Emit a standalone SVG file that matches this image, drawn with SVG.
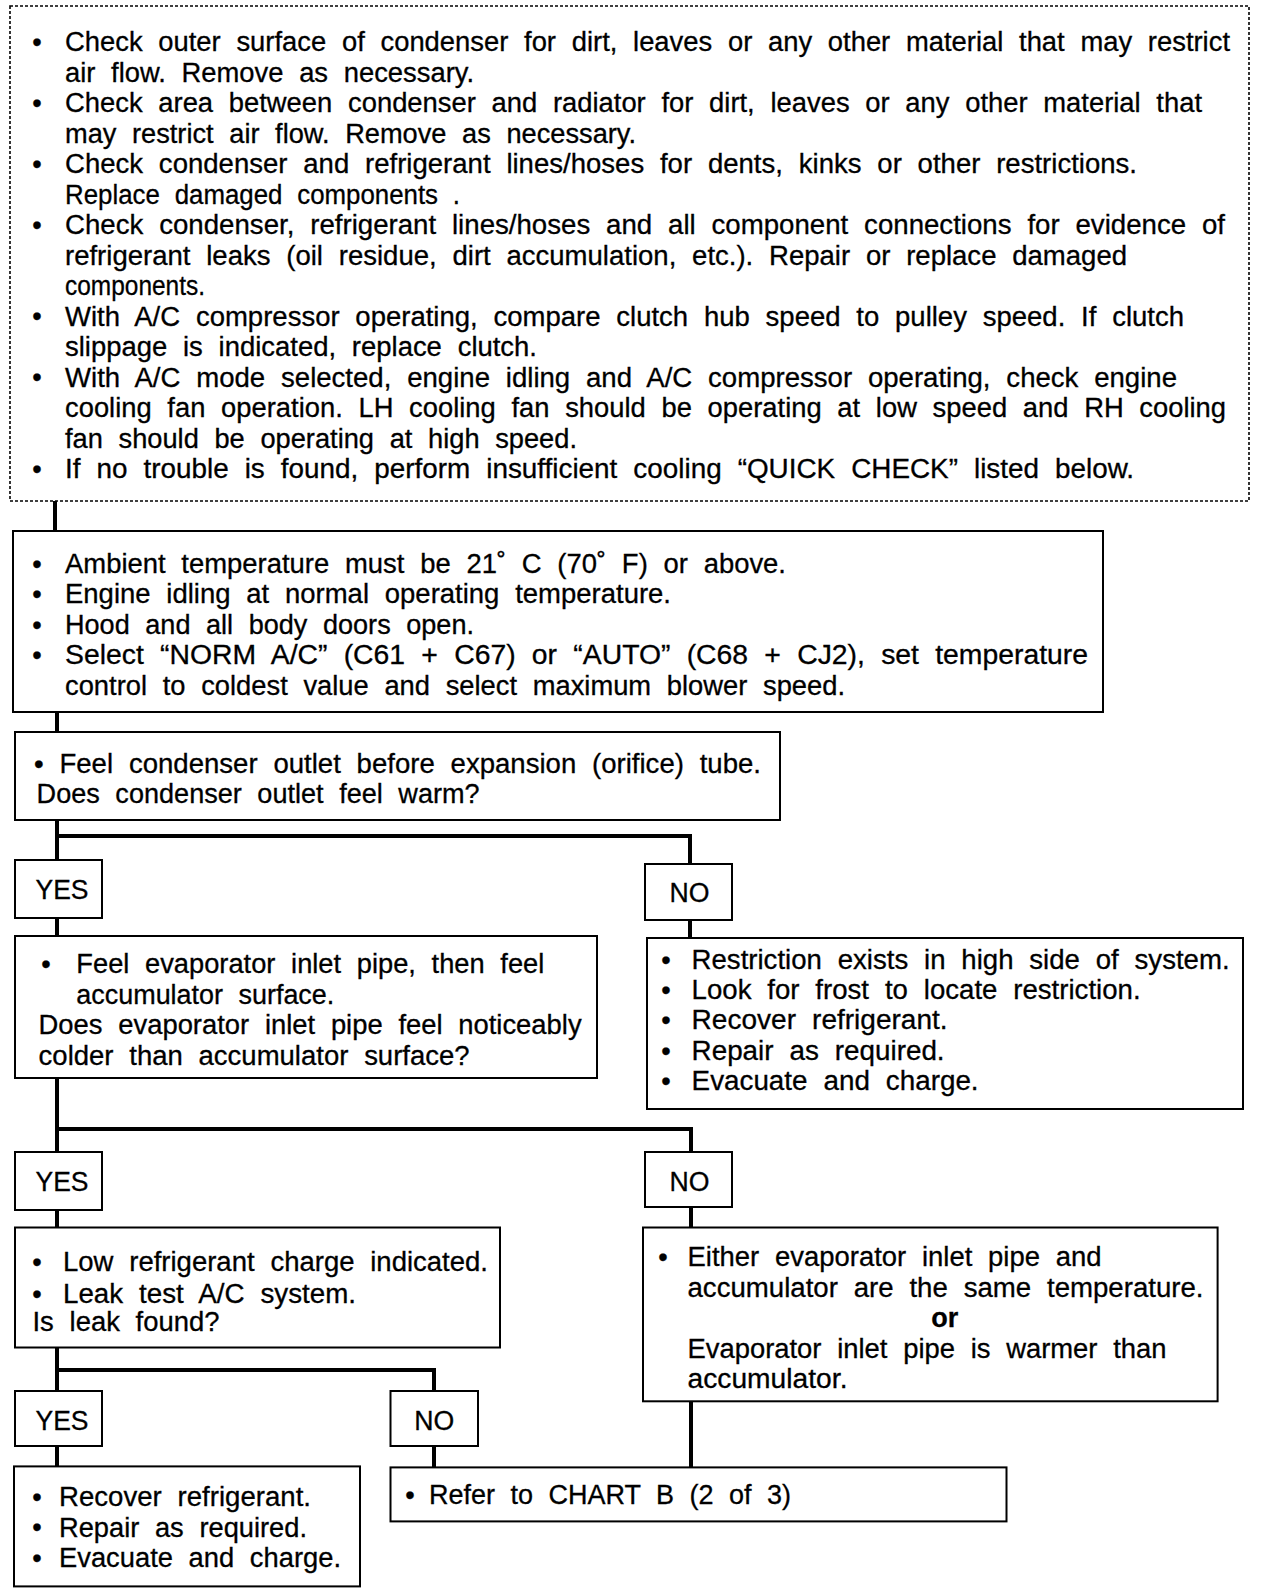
<svg xmlns="http://www.w3.org/2000/svg" width="1264" height="1594" viewBox="0 0 1264 1594">
<style>
.t{font-family:"Liberation Sans",Arial,Helvetica,sans-serif;font-size:27px;fill:#000;word-spacing:8px;stroke:#000;stroke-width:0.3}
.b{font-family:"Liberation Sans",Arial,Helvetica,sans-serif;font-size:27px;fill:#000;text-anchor:middle;stroke:#000;stroke-width:0.3}
.box{fill:#fff;stroke:#000;stroke-width:2}
.dash{fill:#fff;stroke:#000;stroke-width:1.6;stroke-dasharray:3 2}
.conn{stroke:#000;stroke-width:4;fill:none;stroke-linejoin:miter}
</style>
<rect width="1264" height="1594" fill="#fff"/>
<g id="connectors">
<path class="conn" d="M55 501 V531"/>
<path class="conn" d="M57 712 V732"/>
<path class="conn" d="M57 820 V860 M57 836 H690 V864"/>
<path class="conn" d="M57 918 V936"/>
<path class="conn" d="M690 920 V938"/>
<path class="conn" d="M57 1078 V1152 M57 1129 H691 V1152"/>
<path class="conn" d="M57 1210 V1228"/>
<path class="conn" d="M691 1207 V1228"/>
<path class="conn" d="M57 1347 V1391 M57 1370 H434 V1391"/>
<path class="conn" d="M57 1446 V1466"/>
<path class="conn" d="M434 1446 V1467"/>
<path class="conn" d="M691 1401 V1467"/>
</g>
<g id="checks">
<rect class="dash" x="10" y="6" width="1239" height="495"/>
<g class="b"><text x="37" y="51">•</text><text x="37" y="112">•</text><text x="37" y="173">•</text><text x="37" y="234">•</text><text x="37" y="325">•</text><text x="37" y="386">•</text><text x="37" y="478">•</text></g>
<g class="t">
<text x="65" y="51" textLength="1165" lengthAdjust="spacingAndGlyphs">Check outer surface of condenser for dirt, leaves or any other material that may restrict</text>
<text x="65" y="81.5" textLength="409" lengthAdjust="spacingAndGlyphs">air flow. Remove as necessary.</text>
<text x="65" y="112" textLength="1137" lengthAdjust="spacingAndGlyphs">Check area between condenser and radiator for dirt, leaves or any other material that</text>
<text x="65" y="142.5" textLength="571" lengthAdjust="spacingAndGlyphs">may restrict air flow. Remove as necessary.</text>
<text x="65" y="173" textLength="1072" lengthAdjust="spacingAndGlyphs">Check condenser and refrigerant lines/hoses for dents, kinks or other restrictions.</text>
<text x="65" y="203.5" textLength="395" lengthAdjust="spacingAndGlyphs">Replace damaged components .</text>
<text x="65" y="234" textLength="1160" lengthAdjust="spacingAndGlyphs">Check condenser, refrigerant lines/hoses and all component connections for evidence of</text>
<text x="65" y="264.5" textLength="1062" lengthAdjust="spacingAndGlyphs">refrigerant leaks (oil residue, dirt accumulation, etc.). Repair or replace damaged</text>
<text x="65" y="295" textLength="140" lengthAdjust="spacingAndGlyphs">components.</text>
<text x="65" y="325.5" textLength="1119" lengthAdjust="spacingAndGlyphs">With A/C compressor operating, compare clutch hub speed to pulley speed. If clutch</text>
<text x="65" y="356" textLength="472" lengthAdjust="spacingAndGlyphs">slippage is indicated, replace clutch.</text>
<text x="65" y="386.5" textLength="1112" lengthAdjust="spacingAndGlyphs">With A/C mode selected, engine idling and A/C compressor operating, check engine</text>
<text x="65" y="417" textLength="1161" lengthAdjust="spacingAndGlyphs">cooling fan operation. LH cooling fan should be operating at low speed and RH cooling</text>
<text x="65" y="447.5" textLength="512" lengthAdjust="spacingAndGlyphs">fan should be operating at high speed.</text>
<text x="65" y="478" textLength="1069" lengthAdjust="spacingAndGlyphs">If no trouble is found, perform insufficient cooling “QUICK CHECK” listed below.</text>
</g>
</g>
<g id="quick-check">
<rect class="box" x="13" y="531" width="1090" height="181"/>
<g class="b"><text x="37" y="573">•</text><text x="37" y="603">•</text><text x="37" y="634">•</text><text x="37" y="664">•</text></g>
<g class="t">
<text x="65" y="572.7" textLength="721" lengthAdjust="spacingAndGlyphs">Ambient temperature must be 21˚ C (70˚ F) or above.</text>
<text x="65" y="603.2" textLength="606" lengthAdjust="spacingAndGlyphs">Engine idling at normal operating temperature.</text>
<text x="65" y="633.7" textLength="409" lengthAdjust="spacingAndGlyphs">Hood and all body doors open.</text>
<text x="65" y="664.2" textLength="1023" lengthAdjust="spacingAndGlyphs">Select “NORM A/C” (C61 + C67) or “AUTO” (C68 + CJ2), set temperature</text>
<text x="65" y="694.7" textLength="780" lengthAdjust="spacingAndGlyphs">control to coldest value and select maximum blower speed.</text>
</g>
</g>
<g id="condenser-outlet">
<rect class="box" x="15" y="732" width="765" height="88"/>
<g class="t">
<text x="34" y="773" textLength="727" lengthAdjust="spacingAndGlyphs">• Feel condenser outlet before expansion (orifice) tube.</text>
<text x="36.6" y="802.6" textLength="443" lengthAdjust="spacingAndGlyphs">Does condenser outlet feel warm?</text>
</g>
</g>
<g id="yes1"><rect class="box" x="15" y="860" width="87" height="58"/><text class="b" x="62" y="899" textLength="53" lengthAdjust="spacingAndGlyphs">YES</text></g>
<g id="no1"><rect class="box" x="645" y="864" width="87" height="56"/><text class="b" x="689.5" y="902" textLength="40" lengthAdjust="spacingAndGlyphs">NO</text></g>
<g id="evap-inlet">
<rect class="box" x="15" y="936" width="582" height="142"/>
<text class="b" x="46" y="973">•</text>
<g class="t">
<text x="76.3" y="973.4" textLength="468" lengthAdjust="spacingAndGlyphs">Feel evaporator inlet pipe, then feel</text>
<text x="76.3" y="1003.9" textLength="258" lengthAdjust="spacingAndGlyphs">accumulator surface.</text>
<text x="38.6" y="1034.4" textLength="543" lengthAdjust="spacingAndGlyphs">Does evaporator inlet pipe feel noticeably</text>
<text x="38.6" y="1064.9" textLength="431" lengthAdjust="spacingAndGlyphs">colder than accumulator surface?</text>
</g>
</g>
<g id="restriction">
<rect class="box" x="647" y="938" width="596" height="171"/>
<g class="b"><text x="666" y="969">•</text><text x="666" y="999">•</text><text x="666" y="1029">•</text><text x="666" y="1060">•</text><text x="666" y="1090">•</text></g>
<g class="t">
<text x="691.6" y="969.3" textLength="538" lengthAdjust="spacingAndGlyphs">Restriction exists in high side of system.</text>
<text x="691.6" y="998.8" textLength="449" lengthAdjust="spacingAndGlyphs">Look for frost to locate restriction.</text>
<text x="691.6" y="1029.3" textLength="256" lengthAdjust="spacingAndGlyphs">Recover refrigerant.</text>
<text x="691.6" y="1059.8" textLength="253" lengthAdjust="spacingAndGlyphs">Repair as required.</text>
<text x="691.6" y="1090.3" textLength="287" lengthAdjust="spacingAndGlyphs">Evacuate and charge.</text>
</g>
</g>
<g id="yes2"><rect class="box" x="15" y="1152" width="87" height="58"/><text class="b" x="62" y="1190.7" textLength="53" lengthAdjust="spacingAndGlyphs">YES</text></g>
<g id="no2"><rect class="box" x="645" y="1152" width="87" height="55"/><text class="b" x="689.5" y="1190.7" textLength="40" lengthAdjust="spacingAndGlyphs">NO</text></g>
<g id="low-charge">
<rect class="box" x="15" y="1227.5" width="485" height="120"/>
<g class="b"><text x="37" y="1271">•</text><text x="37" y="1303">•</text></g>
<g class="t">
<text x="63" y="1271.3" textLength="425" lengthAdjust="spacingAndGlyphs">Low refrigerant charge indicated.</text>
<text x="63" y="1302.9" textLength="293" lengthAdjust="spacingAndGlyphs">Leak test A/C system.</text>
<text x="32.5" y="1331.3" textLength="187" lengthAdjust="spacingAndGlyphs">Is leak found?</text>
</g>
</g>
<g id="same-temp">
<rect class="box" x="643" y="1227.5" width="574.6" height="173.8"/>
<text class="b" x="663" y="1266">•</text>
<g class="t">
<text x="687.5" y="1266.3" textLength="414" lengthAdjust="spacingAndGlyphs">Either evaporator inlet pipe and</text>
<text x="687.5" y="1296.7" textLength="516" lengthAdjust="spacingAndGlyphs">accumulator are the same temperature.</text>
<text x="687.5" y="1357.7" textLength="479" lengthAdjust="spacingAndGlyphs">Evaporator inlet pipe is warmer than</text>
<text x="687.5" y="1388.3" textLength="160" lengthAdjust="spacingAndGlyphs">accumulator.</text>
</g>
<text class="b" x="944.8" y="1327" font-weight="bold">or</text>
</g>
<g id="yes3"><rect class="box" x="15" y="1391" width="87" height="55"/><text class="b" x="62" y="1429.7" textLength="53" lengthAdjust="spacingAndGlyphs">YES</text></g>
<g id="no3"><rect class="box" x="390.5" y="1391" width="87.5" height="55"/><text class="b" x="434.2" y="1429.7" textLength="40" lengthAdjust="spacingAndGlyphs">NO</text></g>
<g id="repair">
<rect class="box" x="14" y="1466.4" width="346" height="120"/>
<g class="b"><text x="37" y="1506">•</text><text x="37" y="1536">•</text><text x="37" y="1567">•</text></g>
<g class="t">
<text x="59" y="1506.3" textLength="252" lengthAdjust="spacingAndGlyphs">Recover refrigerant.</text>
<text x="59" y="1536.7" textLength="248" lengthAdjust="spacingAndGlyphs">Repair as required.</text>
<text x="59" y="1567.3" textLength="282" lengthAdjust="spacingAndGlyphs">Evacuate and charge.</text>
</g>
</g>
<g id="chart-b">
<rect class="box" x="390.5" y="1467.4" width="616" height="54"/>
<text class="b" x="410" y="1504">•</text>
<text class="t" x="429" y="1504.3" textLength="362" lengthAdjust="spacingAndGlyphs">Refer to CHART B (2 of 3)</text>
</g>
</svg>
